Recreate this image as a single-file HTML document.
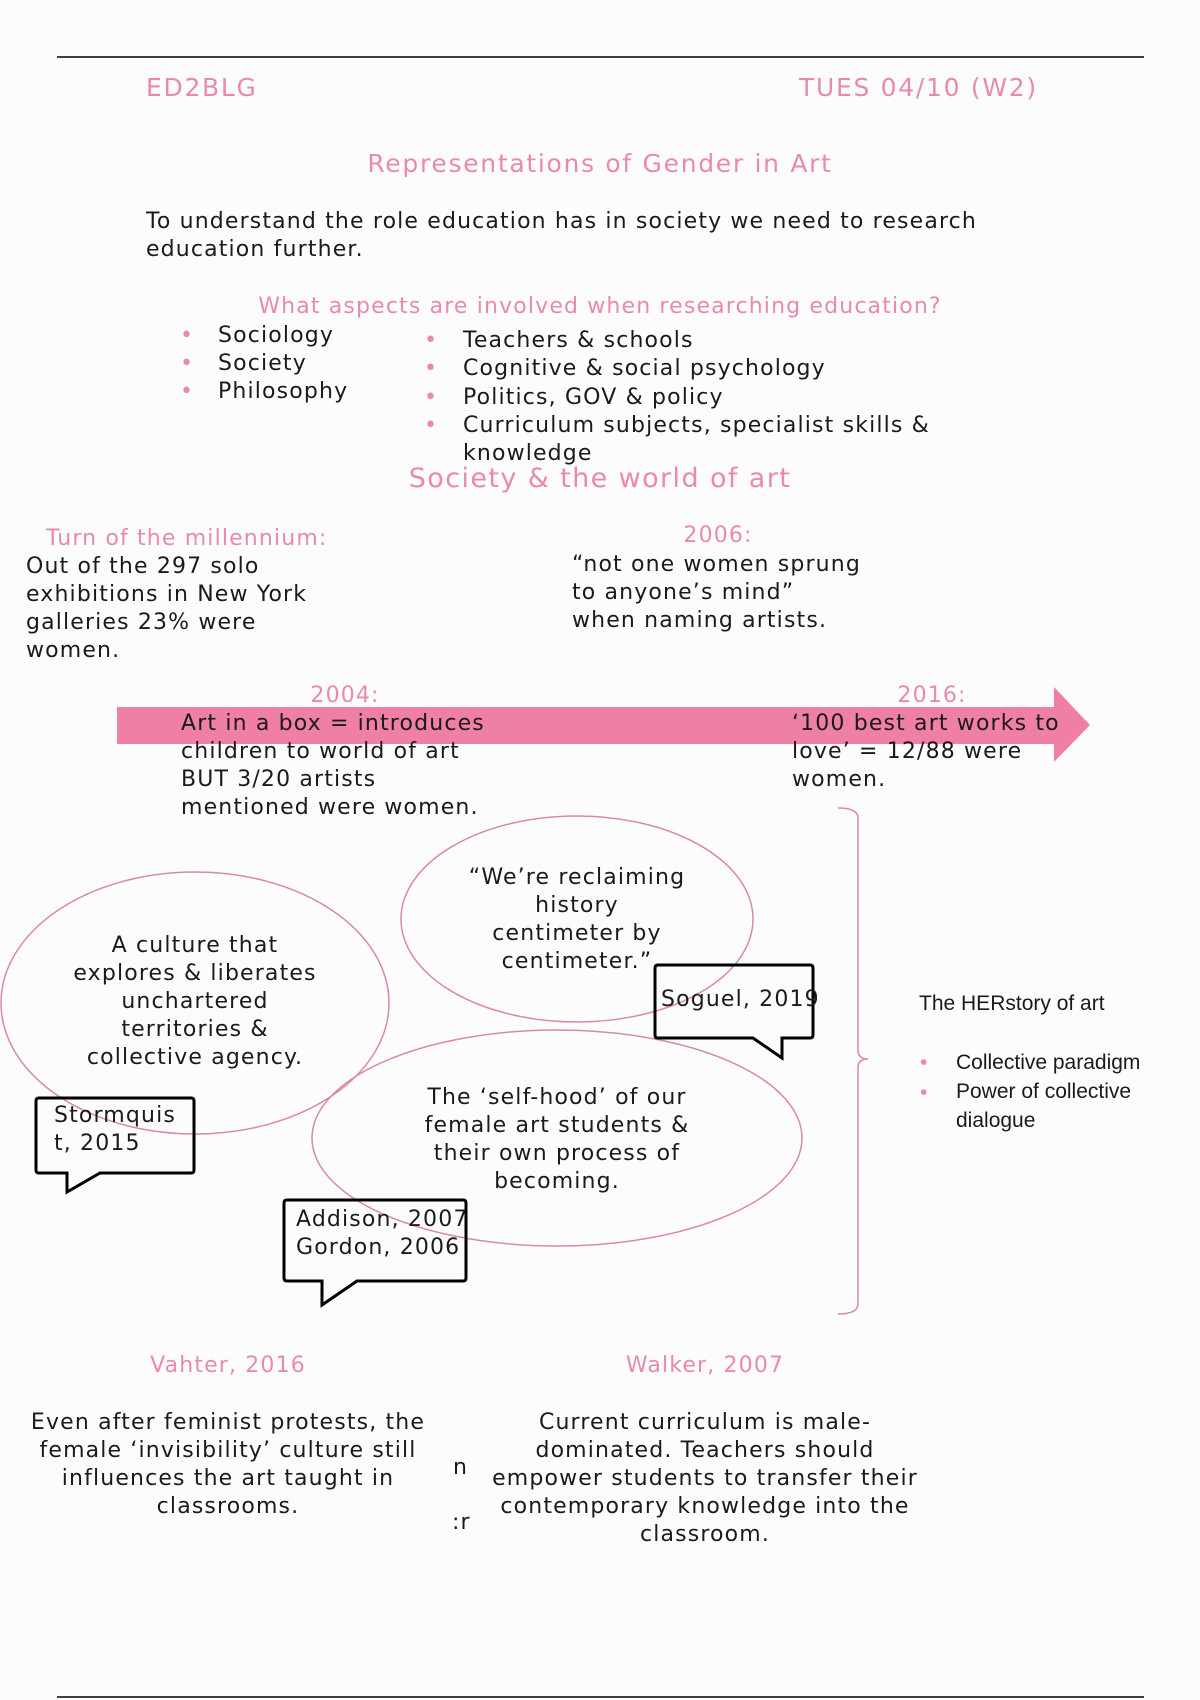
<!DOCTYPE html>
<html><head><meta charset="utf-8"><style>
body{margin:0;background:#fff;}
#p{position:relative;width:1200px;height:1700px;overflow:hidden;background:#fdfcfd;font-family:"DejaVu Sans","Liberation Sans",sans-serif;font-size:22px;color:#1a1a1a;letter-spacing:1.15px;}
.a{position:absolute;line-height:28px;white-space:nowrap;}
.pk{color:#e98aaa;}
.big{font-size:25px;letter-spacing:1.7px;}
.c{text-align:center;transform:translateX(-50%);}
svg{position:absolute;left:0;top:0;}
.dot{color:#e98aaa;}
.cal{font-family:"Liberation Sans",sans-serif;font-size:21px;letter-spacing:0;}
</style></head><body><div id="p">
<svg width="1200" height="1700">
<line x1="57" y1="57" x2="1144" y2="57" stroke="#000" stroke-width="1.5"/>
<line x1="57" y1="1697" x2="1144" y2="1697" stroke="#000" stroke-width="1.5"/>
<polygon points="117,707 1054,707 1054,687 1090,725 1054,762 1054,744 117,744" fill="#ef7fa7"/>
<ellipse cx="195" cy="1003" rx="194" ry="131" fill="none" stroke="#d98aa2" stroke-width="1.5"/>
<ellipse cx="577" cy="919" rx="176" ry="103" fill="none" stroke="#d98aa2" stroke-width="1.5"/>
<ellipse cx="557" cy="1138" rx="245" ry="108" fill="none" stroke="#d98aa2" stroke-width="1.5"/>
<path d="M658,965 H810 Q813,965 813,968 V1035 Q813,1038 810,1038 H782 V1058 L753,1038 H658 Q655,1038 655,1035 V968 Q655,965 658,965 Z" fill="none" stroke="#000" stroke-width="3"/>
<path d="M39,1098 H191 Q194,1098 194,1101 V1170 Q194,1173 191,1173 H100 L67,1192 V1173 H39 Q36,1173 36,1170 V1101 Q36,1098 39,1098 Z" fill="none" stroke="#000" stroke-width="3"/>
<path d="M287,1200 H463 Q466,1200 466,1203 V1278 Q466,1281 463,1281 H357 L322,1305 V1281 H287 Q284,1281 284,1278 V1203 Q284,1200 287,1200 Z" fill="none" stroke="#000" stroke-width="3"/>
<path d="M838,808 Q858,808 858,818 V1050 Q858,1059 868,1059 Q858,1059 858,1068 V1304 Q858,1314 838,1314" fill="none" stroke="#d98aa2" stroke-width="1.5"/>
</svg>
<div class="a pk big" style="left:146px;top:74px;">ED2BLG</div>
<div class="a pk big" style="left:799px;top:74px;">TUES 04/10 (W2)</div>
<div class="a pk c big" style="left:600px;top:150px;">Representations of Gender in Art</div>
<div class="a" style="left:146px;top:208px;">To understand the role education has in society we need to research<br>education further.</div>
<div class="a pk c" style="left:600px;top:293px;">What aspects are involved when researching education?</div>
<div class="a" style="left:180px;top:322px;"><span class="dot">•</span></div>
<div class="a" style="left:180px;top:350px;"><span class="dot">•</span></div>
<div class="a" style="left:180px;top:378px;"><span class="dot">•</span></div>
<div class="a" style="left:218px;top:322px;">Sociology<br>Society<br>Philosophy</div>
<div class="a" style="left:424px;top:327px;line-height:28.3px;"><span class="dot">•<br>•<br>•<br>•</span></div>
<div class="a" style="left:463px;top:327px;line-height:28.3px;">Teachers &amp; schools<br>Cognitive &amp; social psychology<br>Politics, GOV &amp; policy<br>Curriculum subjects, specialist skills &amp;<br>knowledge</div>
<div class="a pk c" style="left:600px;top:463px;font-size:27px;line-height:32px;letter-spacing:1.4px;">Society &amp; the world of art</div>
<div class="a pk" style="left:46px;top:525px;">Turn of the millennium:</div>
<div class="a" style="left:26px;top:553px;">Out of the 297 solo<br>exhibitions in New York<br>galleries 23% were<br>women.</div>
<div class="a pk c" style="left:718px;top:522px;">2006:</div>
<div class="a" style="left:572px;top:551px;">“not one women sprung<br>to anyone’s mind”<br>when naming artists.</div>
<div class="a pk c" style="left:345px;top:682px;">2004:</div>
<div class="a" style="left:181px;top:710px;">Art in a box = introduces<br>children to world of art<br>BUT 3/20 artists<br>mentioned were women.</div>
<div class="a pk c" style="left:932px;top:682px;">2016:</div>
<div class="a" style="left:792px;top:710px;">‘100 best art works to<br>love’ = 12/88 were<br>women.</div>
<div class="a c" style="left:195px;top:932px;">A culture that<br>explores &amp; liberates<br>unchartered<br>territories &amp;<br>collective agency.</div>
<div class="a c" style="left:577px;top:864px;">“We’re reclaiming<br>history<br>centimeter by<br>centimeter.”</div>
<div class="a c" style="left:557px;top:1084px;">The ‘self-hood’ of our<br>female art students &amp;<br>their own process of<br>becoming.</div>
<div class="a" style="left:661px;top:986px;">Soguel, 2019</div>
<div class="a" style="left:54px;top:1102px;">Stormquis<br>t, 2015</div>
<div class="a" style="left:296px;top:1206px;">Addison, 2007<br>Gordon, 2006</div>
<div class="a cal" style="left:919px;top:990px;">The HERstory of art</div>
<div class="a cal" style="left:920px;top:1048px;line-height:29.5px;"><span class="dot">•<br>•</span></div>
<div class="a cal" style="left:956px;top:1048px;line-height:29px;">Collective paradigm<br>Power of collective<br>dialogue</div>
<div class="a pk c" style="left:228px;top:1352px;">Vahter, 2016</div>
<div class="a c" style="left:228px;top:1409px;">Even after feminist protests, the<br>female ‘invisibility’ culture still<br>influences the art taught in<br>classrooms.</div>
<div class="a pk c" style="left:705px;top:1352px;">Walker, 2007</div>
<div class="a c" style="left:705px;top:1409px;">Current curriculum is male-<br>dominated. Teachers should<br>empower students to transfer their<br>contemporary knowledge into the<br>classroom.</div>
<div class="a" style="left:453px;top:1454px;">n</div>
<div class="a" style="left:452px;top:1509px;">:r</div>
</div></body></html>
